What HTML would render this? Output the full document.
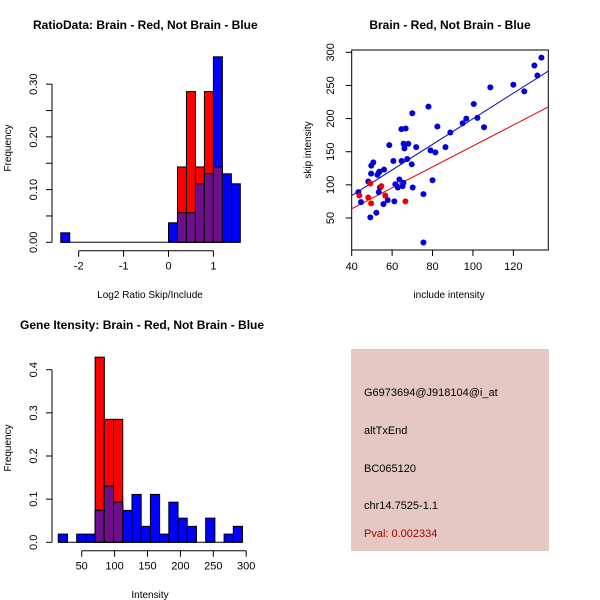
<!DOCTYPE html>
<html><head><meta charset="utf-8"><style>
body{margin:0;background:#fff}
svg{display:block;font-family:"Liberation Sans",Arial,sans-serif}
</style></head><body>
<svg id="s" width="600" height="600" viewBox="0 0 600 600" xmlns="http://www.w3.org/2000/svg">
<rect width="600" height="600" fill="#fff"/>
<g id="p1"></g>
<g id="p2"></g>
<g id="p3"></g>
<g id="p4">
<rect x="351" y="349" width="198" height="202" fill="#E6C8C2"/>
<text x="364" y="396" font-size="11">G6973694@J918104@i_at</text>
<text x="364" y="434" font-size="11">altTxEnd</text>
<text x="364" y="472" font-size="11">BC065120</text>
<text x="364" y="509" font-size="11">chr14.7525-1.1</text>
<text x="364" y="537" font-size="11" fill="#A00000">Pval: 0.002334</text>
</g>
</svg>
<script>
// ---- data: ratio histogram ----
const ratioBinStart=-2.4, ratioBinWidth=0.2;
const ratioBlue=[0.018,0,0,0,0,0,0,0,0,0,0,0,0.037,0.056,0.056,0.111,0.13,0.352,0.13,0.111];
const ratioRed=[0,0,0,0,0,0,0,0,0,0,0,0,0,0.143,0.286,0.143,0.286,0.143,0,0];
const ratioYTicks=[0,0.05,0.10,0.15,0.20,0.25,0.30];
const ratioYLabels=["0.00","","0.10","","0.20","","0.30"];
const ratioXTicks=[-2,-1,0,1];
// ---- data: scatter ----
const blueX=[43.3,44.6,48.2,49.2,49.6,49.7,50.7,52.2,52.7,53.5,53.7,53.4,54,55.7,56,57.8,58.6,60.6,61.1,61.6,62.8,63.6,64.6,64.7,65.2,65.6,65.7,66.1,66.7,67.5,68,69.7,70,70.2,71.9,75.5,75.5,78,79,80,81.4,82.4,88.8,86.4,94.9,96.7,100.4,102.2,105.5,108.6,120,125.4,130.4,131.9,133.9];
const blueY=[89,74,105,51,117,129,134,58,115,119,120,89,96,71,123,77,160,136,75,101,96,108,184,136,98,103,162,155,185,139,162,131,208,96,157,86,13,218,152,107,149,188,179,157,193,200,222,201,187,247,251,241,280,265,292];
const redX=[43.8,48.2,49.6,49.2,54.7,56.6,66.6];
const redY=[84,81,72,102,98,84,75];
const blueFit=[6.7,1.93]; // intercept, slope
const redFit=[0.7,1.58];
const scXTicks=[40,60,80,100,120];
const scYTicks=[50,100,150,200,250,300];
// ---- data: intensity histogram ----
const intBinStart=14.4, intBinWidth=14.0;
const intBlue=[0.019,0,0.019,0.019,0.074,0.13,0.093,0.074,0.111,0.037,0.111,0.019,0.093,0.056,0.037,0,0.056,0,0.019,0.037];
const intRed=[0,0,0,0,0.429,0.285,0.285,0,0,0,0,0,0,0,0,0,0,0,0,0];
const intYTicks=[0,0.1,0.2,0.3,0.4];
const intYLabels=["0.0","0.1","0.2","0.3","0.4"];
const intXTicks=[50,100,150,200,250,300];

const NS="http://www.w3.org/2000/svg";
function mk(parent,tag,attrs){const e=document.createElementNS(NS,tag);for(const k in attrs)e.setAttribute(k,attrs[k]);parent.appendChild(e);return e;}
function txt(parent,x,y,s,size,anchor,rot){const t=mk(parent,'text',{x:x,y:y,'font-size':size,'text-anchor':anchor||'middle'});if(rot)t.setAttribute('transform','rotate(-90 '+x+' '+y+')');t.textContent=s;return t;}
const RED="#FF0000",BLUE="#0000FF",PURP="#6E0E8C";

function hist(g,o){
  const sx=v=>o.x0+(v-o.xv0)*o.kx, sy=v=>o.y0-v*o.ky;
  const n=o.blue.length;
  for(let i=0;i<n;i++){
    const a=sx(o.bs+i*o.bw), b=sx(o.bs+(i+1)*o.bw);
    const bl=o.blue[i], rd=o.red[i], m=Math.min(bl,rd);
    if(rd>0){const r=mk(g,'rect',{x:a,y:sy(rd),width:b-a,height:sy(0)-sy(rd),fill:RED,stroke:'#000','stroke-width':1});
      }
    if(bl>0){const r=mk(g,'rect',{x:a,y:sy(bl),width:b-a,height:sy(0)-sy(bl),fill:BLUE,stroke:'#000','stroke-width':1});
      }
    if(m>0){const r=mk(g,'rect',{x:a,y:sy(m),width:b-a,height:sy(0)-sy(m),fill:PURP,stroke:'#000','stroke-width':1});
      }
  }
  mk(g,'line',{x1:sx(o.bs),x2:sx(o.bs+n*o.bw),y1:sy(0),y2:sy(0),stroke:'#000'});
  const ya=mk(g,'g',{});
  const yt=o.yticks;
  mk(ya,'line',{x1:o.yax,x2:o.yax,y1:sy(yt[0]),y2:sy(yt[yt.length-1]),stroke:'#000'});
  yt.forEach((v,i)=>{mk(ya,'line',{x1:o.yax-6,x2:o.yax,y1:sy(v),y2:sy(v),stroke:'#000'});
    if(o.ylabels[i])txt(ya,o.yax-15,sy(v),o.ylabels[i],11,'middle',true);});
  const xa=mk(g,'g',{});
  const xt=o.xticks;
  mk(xa,'line',{x1:sx(xt[0]),x2:sx(xt[xt.length-1]),y1:o.xay,y2:o.xay,stroke:'#000'});
  xt.forEach(v=>{mk(xa,'line',{x1:sx(v),x2:sx(v),y1:o.xay,y2:o.xay+6,stroke:'#000'});txt(xa,sx(v),o.xay+19,String(v),11);});
}

// panel 1
const g1=document.getElementById('p1');
hist(g1,{x0:168.5,xv0:0,kx:44.9,y0:242.3,ky:527,bs:ratioBinStart,bw:ratioBinWidth,blue:ratioBlue,red:ratioRed,
  yticks:ratioYTicks,ylabels:ratioYLabels,yax:52,xticks:ratioXTicks,xay:250.7});
const t1=txt(g1,33,29,'RatioData: Brain - Red, Not Brain - Blue',12,'start');t1.setAttribute('font-weight','bold');

txt(g1,150,298,'Log2 Ratio Skip/Include',10);
txt(g1,11,148,'Frequency',10,'middle',true);

// panel 2
const g2=document.getElementById('p2');
const px=v=>351.7+(v-40)*2.0208, py=v=>52.3+(300-v)*0.6628;
mk(g2,'rect',{x:351.7,y:50,width:196.6,height:200,fill:'none',stroke:'#000'});
const clip=mk(g2,'clipPath',{id:'c2'});mk(clip,'rect',{x:351.7,y:50,width:196.6,height:200});
const lines=mk(g2,'g',{'clip-path':'url(#c2)'});
[[redFit,'#E00000','red-fit-line'],[blueFit,'#0000C0','blue-fit-line']].forEach(([f,c,n])=>{
  const l=mk(lines,'line',{x1:px(40),y1:py(f[0]+f[1]*40),x2:px(138),y2:py(f[0]+f[1]*138),stroke:c,'stroke-width':1});
  });
blueX.forEach((x,i)=>{const c=mk(g2,'circle',{cx:px(x),cy:py(blueY[i]),r:3,fill:'#0000DD'});
  });
redX.forEach((x,i)=>{const c=mk(g2,'circle',{cx:px(x),cy:py(redY[i]),r:3,fill:'#EE0000'});
  });
scXTicks.forEach(v=>{mk(g2,'line',{x1:px(v),x2:px(v),y1:250,y2:256,stroke:'#000'});txt(g2,px(v),270,String(v),11);});
scYTicks.forEach(v=>{mk(g2,'line',{x1:345.7,x2:351.7,y1:py(v),y2:py(v),stroke:'#000'});txt(g2,334,py(v),String(v),11,'middle',true);});
const t2=txt(g2,450,29,'Brain - Red, Not Brain - Blue',12);t2.setAttribute('font-weight','bold');

txt(g2,449,298,'include intensity',10);
txt(g2,311,150,'skip intensity',10,'middle',true);

// panel 3
const g3=document.getElementById('p3');
hist(g3,{x0:81.7,xv0:50,kx:0.658,y0:542.3,ky:431.5,bs:intBinStart,bw:intBinWidth,blue:intBlue,red:intRed,
  yticks:intYTicks,ylabels:intYLabels,yax:52,xticks:intXTicks,xay:550.7});
const t3=txt(g3,20,329,'Gene Itensity: Brain - Red, Not Brain - Blue',12,'start');t3.setAttribute('font-weight','bold');

txt(g3,150,598,'Intensity',10);
txt(g3,11,448,'Frequency',10,'middle',true);
</script>
</body></html>
